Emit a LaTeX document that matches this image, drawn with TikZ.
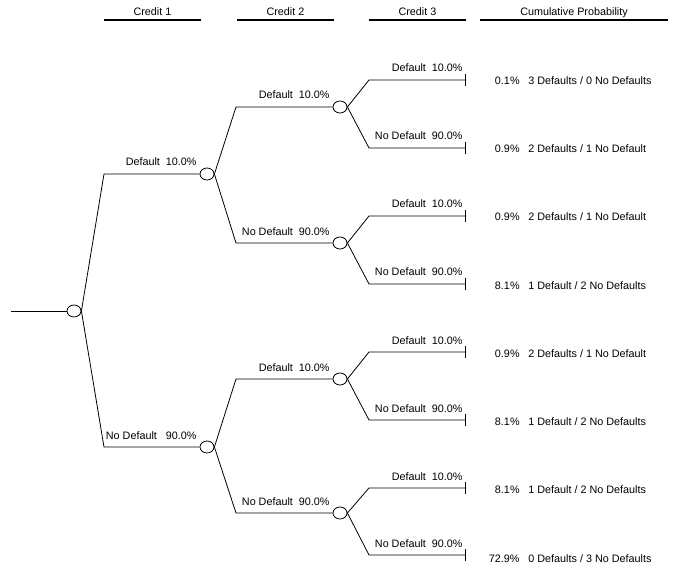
\documentclass[tikz,border=0pt]{standalone}
\usepackage{fontspec}
\setmainfont{Liberation Sans}
\usetikzlibrary{shapes.geometric}
\tikzset{
  chance/.style={draw,ellipse,inner sep=0pt,minimum width=10.5pt,minimum height=9pt},
  blabel/.style={anchor=base east,inner sep=0pt},
  prob/.style={anchor=base east,inner sep=0pt},
  outcome/.style={anchor=base west,inner sep=0pt},
  header/.style={anchor=base,inner sep=0pt},
  rule/.style={line width=1.5pt},
}
\begin{document}
\begin{tikzpicture}[x=0.75pt,y=-0.75pt,line width=0.6pt,font=\fontsize{8.1}{9.7}\selectfont]
  \useasboundingbox (0,0) rectangle (675,563);

  % column headers
  \node[header] (h1) at (152.5,16) {Credit 1};
  \node[header] (h2) at (285.5,16) {Credit 2};
  \node[header] (h3) at (417.5,16) {Credit 3};
  \node[header] (h4) at (574,16) {Cumulative Probability};
  \draw[rule] (104,20) -- (201,20);
  \draw[rule] (237,20) -- (334,20);
  \draw[rule] (369,20) -- (466,20);
  \draw[rule] (480,20) -- (668,20);

  % chance nodes
  \coordinate (s) at (11,311);
  \node[chance] (c0) at (74,311) {};
  \node[chance] (c1a) at (207,174) {};
  \node[chance] (c1b) at (207,447) {};
  \node[chance] (c2a) at (340,107) {};
  \node[chance] (c2b) at (340,243) {};
  \node[chance] (c2c) at (340,379) {};
  \node[chance] (c2d) at (340,513) {};

  % bends
  \coordinate (k1a) at (104,174);
  \coordinate (k1b) at (104,447);
  \coordinate (k2a) at (236,107);
  \coordinate (k2b) at (236,243);
  \coordinate (k2c) at (236,379);
  \coordinate (k2d) at (236,513);
  \coordinate (k3a) at (369,80);
  \coordinate (k3b) at (369,148);
  \coordinate (k3c) at (369,216);
  \coordinate (k3d) at (369,284);
  \coordinate (k3e) at (369,352);
  \coordinate (k3f) at (369,420);
  \coordinate (k3g) at (369,488);
  \coordinate (k3h) at (369,555);

  % end points
  \coordinate (t1) at (465,80);
  \coordinate (t2) at (465,148);
  \coordinate (t3) at (465,216);
  \coordinate (t4) at (465,284);
  \coordinate (t5) at (465,352);
  \coordinate (t6) at (465,420);
  \coordinate (t7) at (465,488);
  \coordinate (t8) at (465,555);

  % branches
  \draw (s) -- (c0);
  \draw (c0.east) -- (k1a) -- (c1a);
  \draw (c0.east) -- (k1b) -- (c1b);
  \draw (c1a.east) -- (k2a) -- (c2a);
  \draw (c1a.east) -- (k2b) -- (c2b);
  \draw (c1b.east) -- (k2c) -- (c2c);
  \draw (c1b.east) -- (k2d) -- (c2d);
  \draw (c2a.east) -- (k3a) -- (t1);
  \draw (c2a.east) -- (k3b) -- (t2);
  \draw (c2b.east) -- (k3c) -- (t3);
  \draw (c2b.east) -- (k3d) -- (t4);
  \draw (c2c.east) -- (k3e) -- (t5);
  \draw (c2c.east) -- (k3f) -- (t6);
  \draw (c2d.east) -- (k3g) -- (t7);
  \draw (c2d.east) -- (k3h) -- (t8);

  % end ticks
  \draw (t1) +(0,-6) -- +(0,6);
  \draw (t2) +(0,-6) -- +(0,6);
  \draw (t3) +(0,-6) -- +(0,6);
  \draw (t4) +(0,-6) -- +(0,6);
  \draw (t5) +(0,-6) -- +(0,6);
  \draw (t6) +(0,-6) -- +(0,6);
  \draw (t7) +(0,-6) -- +(0,6);
  \draw (t8) +(0,-6) -- +(0,6);

  % branch labels
  \node[blabel] (l1a) at (197,166) {Default\ \ 10.0\%};
  \node[blabel] (l1b) at (197,439) {No Default\ \ \ 90.0\%};
  \node[blabel] (l2a) at (330,99) {Default\ \ 10.0\%};
  \node[blabel] (l2b) at (330,235) {No Default\ \ 90.0\%};
  \node[blabel] (l2c) at (330,371) {Default\ \ 10.0\%};
  \node[blabel] (l2d) at (330,505) {No Default\ \ 90.0\%};
  \node[blabel] (l3a) at (463,72) {Default\ \ 10.0\%};
  \node[blabel] (l3b) at (463,140) {No Default\ \ 90.0\%};
  \node[blabel] (l3c) at (463,208) {Default\ \ 10.0\%};
  \node[blabel] (l3d) at (463,276) {No Default\ \ 90.0\%};
  \node[blabel] (l3e) at (463,344) {Default\ \ 10.0\%};
  \node[blabel] (l3f) at (463,412) {No Default\ \ 90.0\%};
  \node[blabel] (l3g) at (463,480) {Default\ \ 10.0\%};
  \node[blabel] (l3h) at (463,547) {No Default\ \ 90.0\%};

  % cumulative probabilities
  \node[prob] (p1) at (520,85) {0.1\%};
  \node[prob] (p2) at (520,153) {0.9\%};
  \node[prob] (p3) at (520,221) {0.9\%};
  \node[prob] (p4) at (520,289) {8.1\%};
  \node[prob] (p5) at (520,357) {0.9\%};
  \node[prob] (p6) at (520,425) {8.1\%};
  \node[prob] (p7) at (520,493) {8.1\%};
  \node[prob] (p8) at (520,562) {72.9\%};
  \node[outcome] (o1) at (528,85) {3 Defaults / 0 No Defaults};
  \node[outcome] (o2) at (528,153) {2 Defaults / 1 No Default};
  \node[outcome] (o3) at (528,221) {2 Defaults / 1 No Default};
  \node[outcome] (o4) at (528,289) {1 Default / 2 No Defaults};
  \node[outcome] (o5) at (528,357) {2 Defaults / 1 No Default};
  \node[outcome] (o6) at (528,425) {1 Default / 2 No Defaults};
  \node[outcome] (o7) at (528,493) {1 Default / 2 No Defaults};
  \node[outcome] (o8) at (528,562) {0 Defaults / 3 No Defaults};
\end{tikzpicture}
\end{document}
